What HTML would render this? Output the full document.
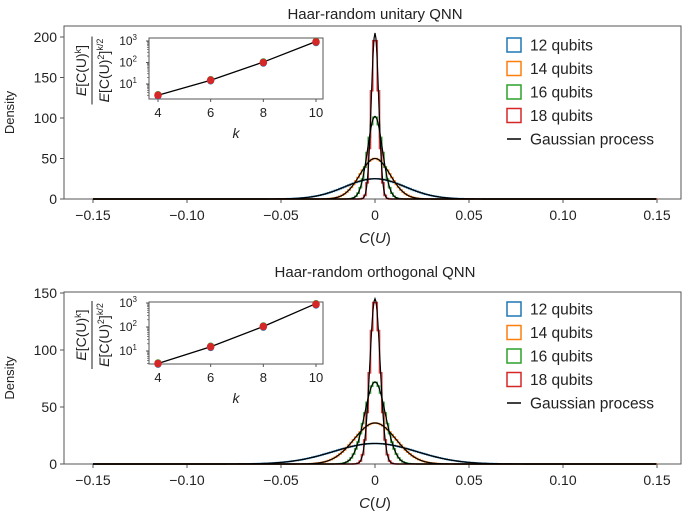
<!DOCTYPE html>
<html><head><meta charset="utf-8"><style>
body{margin:0;background:#fff}
svg text{font-family:"Liberation Sans",sans-serif;fill:#222}
</style></head><body>
<svg id="c" width="685" height="517" viewBox="0 0 685 517" xmlns="http://www.w3.org/2000/svg"></svg>
<script>
const xTicks=[-0.15,-0.10,-0.05,0,0.05,0.10,0.15];
const xTickLabels=["−0.15","−0.10","−0.05","0","0.05","0.10","0.15"];
const seriesNames=["12 qubits","14 qubits","16 qubits","18 qubits"];
const colors=["#1f77b4","#ff7f0e","#2ca02c","#d62728"];
const unitaryPeaks=[25,50,102,205];
const orthoPeaks=[18,36,72,145];
const topYTicks=[0,50,100,150,200];
const botYTicks=[0,50,100,150];
const kVals=[4,6,8,10];
const momentTop=[3,15,100,900];
const momentBot=[3,15,105,880];
const momentLine=[3,15,105,945];
const insetYTicks=[1,2,3];

const svg=document.getElementById('c');
const NS="http://www.w3.org/2000/svg";
function el(t,a,p){const e=document.createElementNS(NS,t);for(const k in a)e.setAttribute(k,a[k]);(p||svg).appendChild(e);return e;}
function txt(s,a,p){const e=el('text',a,p);e.textContent=s;return e;}

function panel(P){
  const g=el('g',{});
  
  
  const X=v=>P.x0+(v-(-0.15))/0.3*(P.x1-P.x0);
  const Y=v=>P.yb-(v/P.ymax)*(P.yb-P.yt);
  const t=txt(P.title,{x:375,y:P.titleY,'text-anchor':'middle','font-size':15},g);
  
  el('rect',{x:P.fl,y:P.ft,width:P.fr-P.fl,height:P.yb-P.ft,fill:'none',stroke:'#555','stroke-width':1},g);
  xTicks.forEach((v,i)=>{el('line',{x1:X(v),x2:X(v),y1:P.yb,y2:P.yb+4,stroke:'#555'},g);
    const l=txt(xTickLabels[i],{x:X(v),y:P.yb+21,'text-anchor':'middle','font-size':14},g);
    });
  P.yTicks.forEach(v=>{el('line',{x1:P.fl-4,x2:P.fl,y1:Y(v),y2:Y(v),stroke:'#555'},g);
    const l=txt(String(v),{x:P.fl-7,y:Y(v)+5,'text-anchor':'end','font-size':14},g);
    });
  const yl=txt('Density',{x:14,y:(P.ft+P.yb)/2,'text-anchor':'middle','font-size':13,transform:`rotate(-90 14 ${(P.ft+P.yb)/2})`},g);
  
  const xl=txt('',{x:375,y:P.yb+44,'text-anchor':'middle','font-size':15},g);
  xl.innerHTML='<tspan font-style="italic">C</tspan>(<tspan font-style="italic">U</tspan>)';
  
  P.peaks.forEach((pk,i)=>{
    const s=1/(pk*Math.sqrt(2*Math.PI));const bw=0.0012;
    let d='';
    for(let b=-0.15;b<0.15-1e-9;b+=bw){const c=b+bw/2;const h=pk*Math.exp(-c*c/(2*s*s));
      d+=(d?'L':'M')+X(b).toFixed(2)+','+Y(h).toFixed(2)+'L'+X(b+bw).toFixed(2)+','+Y(h).toFixed(2);}
    const p=el('path',{d:d,fill:'none',stroke:colors[i],'stroke-width':1.6,opacity:0.9},g);
    
  });
  P.peaks.forEach((pk,i)=>{
    const s=1/(pk*Math.sqrt(2*Math.PI));let d='';
    for(let v=-0.15;v<=0.15;v+=0.0005){d+=(d?'L':'M')+X(v).toFixed(2)+','+Y(pk*Math.exp(-v*v/(2*s*s))).toFixed(2);}
    const p=el('path',{d:d,fill:'none',stroke:'#000','stroke-width':1.2},g);
    
  });
  const lg=el('g',{},g);
  seriesNames.concat(['Gaussian process']).forEach((n,i)=>{
    const cy=P.legY+i*23.5;
    if(i<4) el('rect',{x:507,y:cy-7,width:14,height:14,fill:'none',stroke:colors[i],'stroke-width':1.5},lg);
    else el('line',{x1:507,x2:521,y1:cy,y2:cy,stroke:'#000','stroke-width':1.5},lg);
    const l=txt(n,{x:530,y:cy+5.5,'font-size':15.5},lg);
    
  });
  const I=P.inset;const ig=el('g',{},g);
  const kx=k=>158+(k-4)/6*158;
  const ly=v=>I.y1-(Math.log10(v)-1)*I.dec;
  el('rect',{x:149,y:I.top,width:174,height:I.bot-I.top,fill:'#fff',stroke:'#555'},ig);
  kVals.forEach(k=>{el('line',{x1:kx(k),x2:kx(k),y1:I.bot,y2:I.bot+3,stroke:'#555'},ig);
    txt(String(k),{x:kx(k),y:I.bot+18,'text-anchor':'middle','font-size':13},ig);});
  insetYTicks.forEach(e=>{const y=ly(Math.pow(10,e));el('line',{x1:146,x2:149,y1:y,y2:y,stroke:'#555'},ig);
    const t=txt('',{x:137,y:y+4,'text-anchor':'end','font-size':12},ig);
    t.innerHTML='10<tspan dy="-5" font-size="8">'+e+'</tspan>';});
  for(let e=0;e<3;e++)for(let m=2;m<10;m++){const v=m*Math.pow(10,e);const y=ly(v);if(y>I.top&&y<I.bot)el('line',{x1:147,x2:149,y1:y,y2:y,stroke:'#555','stroke-width':0.7},ig);}
  const kl=txt('k',{x:236,y:I.bot+39,'text-anchor':'middle','font-size':14,'font-style':'italic'},ig);
  
  el('path',{d:kVals.map((k,i)=>(i?'L':'M')+kx(k)+','+ly(momentLine[i])).join(''),fill:'none',stroke:'#000','stroke-width':1.3},ig);
  [colors[0],colors[1],colors[2]].forEach((c,j)=>kVals.forEach((k,i)=>{el('circle',{cx:kx(k),cy:ly(P.moments[i]*(1+0.08*(j-1))),r:3.5,fill:c},ig);}));
  kVals.forEach((k,i)=>{const c=el('circle',{cx:kx(k),cy:ly(P.moments[i]),r:3.8,fill:colors[3]},ig);
    });
  const fy=(I.top+I.bot)/2+2;
  const f1=txt('',{x:0,y:0,'text-anchor':'middle','font-size':14,transform:`translate(86 ${fy}) rotate(-90)`},ig);
  f1.innerHTML='<tspan font-style="italic">E</tspan>[C(U)<tspan dy="-5" font-size="9">k</tspan><tspan dy="5">]</tspan>';
  
  el('line',{x1:92,x2:92,y1:fy-34,y2:fy+34,stroke:'#222','stroke-width':1},ig);
  const f2=txt('',{x:0,y:0,'text-anchor':'middle','font-size':14,transform:`translate(109 ${fy}) rotate(-90)`},ig);
  f2.innerHTML='<tspan font-style="italic">E</tspan>[C(U)<tspan dy="-5" font-size="9">2</tspan><tspan dy="5">]</tspan><tspan dy="-6" font-size="9">k/2</tspan>';
}
panel({name:'unitary-panel',title:'Haar-random unitary QNN',titleY:19,x0:93,x1:657,fl:64,fr:681,ft:26,yt:37,yb:199,ymax:200,yTicks:topYTicks,peaks:unitaryPeaks,legY:45,moments:momentTop,inset:{top:38,bot:99,y1:84,dec:21.5}});
panel({name:'orthogonal-panel',title:'Haar-random orthogonal QNN',titleY:277,x0:93,x1:657,fl:64,fr:681,ft:292,yt:293,yb:464,ymax:150,yTicks:botYTicks,peaks:orthoPeaks,legY:309,moments:momentBot,inset:{top:302,bot:364,y1:351,dec:24}});
</script>
</body></html>
